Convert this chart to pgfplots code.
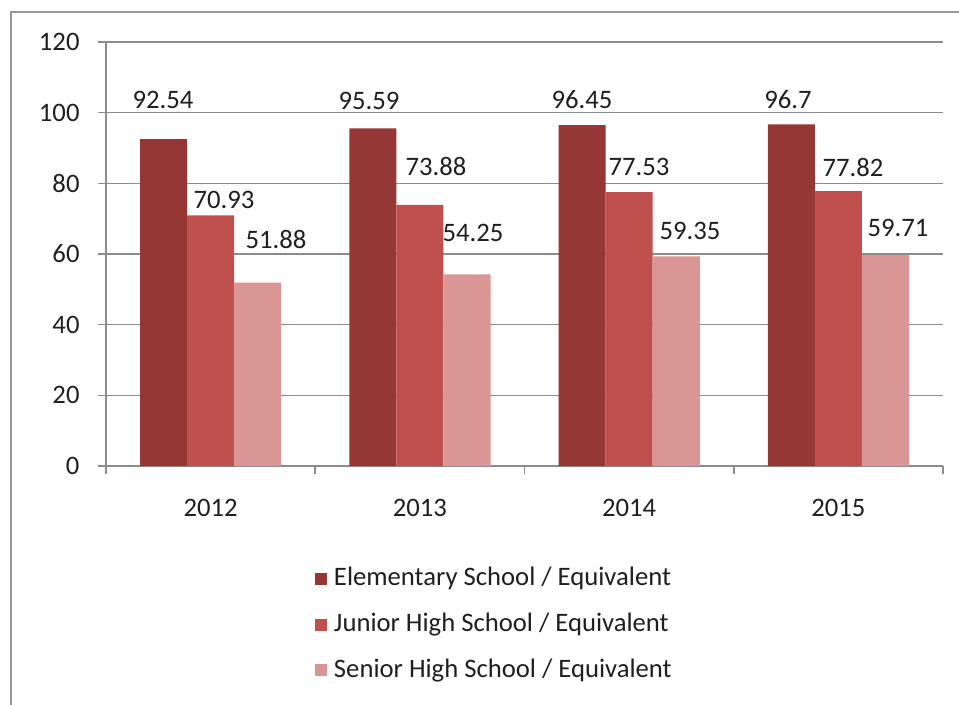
\documentclass[border=0pt]{standalone}
\usepackage{fontspec}
\setmainfont{Carlito}
\usepackage{pgfplots}
\pgfplotsset{compat=1.18}
\definecolor{cA}{HTML}{953735}
\definecolor{cB}{HTML}{C0504D}
\definecolor{cC}{HTML}{D99694}
\definecolor{gridc}{HTML}{8C8C8C}
\definecolor{txt}{HTML}{1F1F1F}
\pgfplotsset{sqlegend/.style={legend image code/.code={\fill[##1] (0pt,-4.5pt) rectangle (9pt,4.5pt); \path (12pt,0pt);}}}
\begin{document}
\fontsize{20}{24}\selectfont
\begin{tikzpicture}
\draw[gridc!90, line width=1.2pt] (8.25pt,-15pt) rectangle (745pt,519pt);
\begin{axis}[
  at={(79.5pt,178.5pt)}, anchor=south west,
  scale only axis, width=627.75pt, height=318pt,
  xmin=-0.5, xmax=3.5, ymin=0, ymax=120,
  ytick={0,20,...,120},
  xtick={-0.5,0.5,1.5,2.5,3.5}, xticklabels={},
  extra x ticks={0,1,2,3}, extra x tick labels={2012,2013,2014,2015},
  extra x tick style={major tick length=0pt, xticklabel style={yshift=-18pt}},
  axis x line*=bottom, axis y line*=left,
  axis line style={gridc, line width=1.2pt, -},
  ymajorgrids, major grid style={gridc, line width=1.2pt},
  tick align=outside,
  major tick length=6pt,
  tick style={gridc, line width=1.2pt},
  /pgf/number format/assume math mode=true,
  tick label style={text=txt},
  yticklabel style={xshift=-7pt},
  legend style={at={(0.245,-0.226)}, anchor=north west, draw=none, fill=none,
    legend cell align=left, row sep=13.5pt, text=txt},
  clip=false,
]
\addplot[ybar, bar width=0.225, bar shift=-0.225, fill=cA, draw=none, sqlegend] coordinates {(0,92.54)(1,95.59)(2,96.45)(3,96.7)};
\addlegendentry{Elementary School / Equivalent}
\addplot[ybar, bar width=0.225, bar shift=0, fill=cB, draw=none, sqlegend] coordinates {(0,70.93)(1,73.88)(2,77.53)(3,77.82)};
\addlegendentry{Junior High School / Equivalent}
\addplot[ybar, bar width=0.225, bar shift=0.225, fill=cC, draw=none, sqlegend] coordinates {(0,51.88)(1,54.25)(2,59.35)(3,59.71)};
\addlegendentry{Senior High School / Equivalent}
\addplot[draw=none, mark=none, forget plot, nodes near coords, point meta=explicit symbolic,
  nodes near coords style={anchor=center, text=txt}] coordinates {
  (-0.228,103.6)[92.54] (0.064,75.3)[70.93] (0.312,64.0)[51.88]
  (0.757,103.3)[95.59] (1.077,84.9)[73.88] (1.254,66.0)[54.25]
  (1.775,103.6)[96.45] (2.047,84.6)[77.53] (2.291,66.5)[59.35]
  (2.759,103.6)[96.7] (3.070,84.6)[77.82] (3.285,67.4)[59.71]};
\end{axis}
\pgfresetboundingbox
\useasboundingbox (0pt,0pt) rectangle (719.25pt,528pt);
\end{tikzpicture}
\end{document}
